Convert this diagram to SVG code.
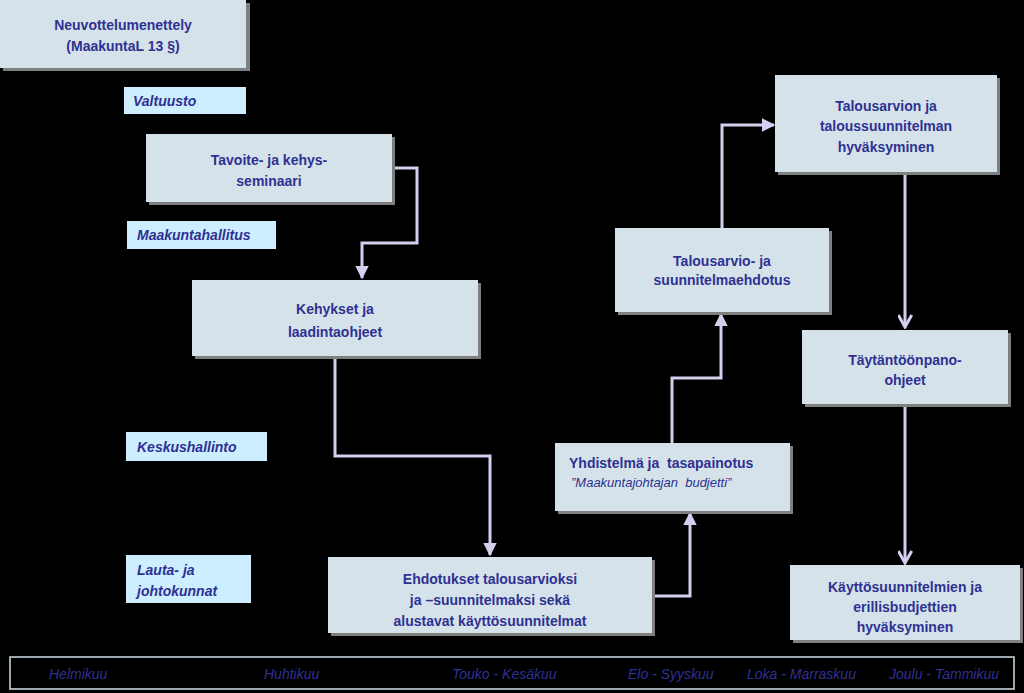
<svg xmlns="http://www.w3.org/2000/svg" width="1024" height="693" viewBox="0 0 1024 693">
<style>
.box{fill:#d5e2ea}
.sh{fill:#7f7f7f}
.lbl{fill:#cdeefe}
.t{font-family:"Liberation Sans",Arial,sans-serif;font-size:14px;font-weight:bold;fill:#2e3192;text-anchor:middle}
.li{font-family:"Liberation Sans",Arial,sans-serif;font-size:14px;font-weight:bold;font-style:italic;fill:#2e3192}
.m{font-family:"Liberation Sans",Arial,sans-serif;font-size:14px;font-style:italic;fill:#2e3192}
.c{fill:none;stroke:#d2d0ee;stroke-width:3}
</style>
<defs>
<marker id="tri" viewBox="0 0 10 10" refX="9" refY="5" markerWidth="4.5" markerHeight="4.5" orient="auto" markerUnits="strokeWidth">
<path d="M0,0 L10,5 L0,10 z" fill="#d2d0ee"/>
</marker>
<marker id="chev" viewBox="0 0 10 10" refX="9" refY="5" markerWidth="5" markerHeight="5" orient="auto" markerUnits="strokeWidth">
<path d="M1,0.5 L9,5 L1,9.5" fill="none" stroke="#d2d0ee" stroke-width="2"/>
</marker>
</defs>
<rect width="1024" height="693" fill="#000"/>

<g id="connectors">
<path class="c" d="M392,168 H417 V243 H362 V278" marker-end="url(#tri)"/>
<path class="c" d="M335,356 V456 H490 V555" marker-end="url(#tri)"/>
<path class="c" d="M652,596 H690 V513" marker-end="url(#tri)"/>
<path class="c" d="M672,443 V378 H721 V314" marker-end="url(#tri)"/>
<path class="c" d="M722,228 V125 H774" marker-end="url(#tri)"/>
<path class="c" d="M905,172 V327" marker-end="url(#chev)"/>
<path class="c" d="M905,404 V563" marker-end="url(#chev)"/>
</g>

<g id="n-neuvottelu">
<rect class="sh" x="3" y="3" width="247" height="68"/>
<rect class="box" x="0" y="0" width="246" height="68"/>
<text class="t" x="123" y="30">Neuvottelumenettely</text>
<text class="t" x="123" y="51">(MaakuntaL 13 §)</text>
</g>

<g id="l-valtuusto">
<rect class="lbl" x="124" y="87" width="122" height="27"/>
<text class="li" x="133" y="106">Valtuusto</text>
</g>

<g id="n-tavoite">
<rect class="sh" x="149" y="137" width="246" height="68"/>
<rect class="box" x="146" y="134" width="246" height="68"/>
<text class="t" x="269" y="165">Tavoite- ja kehys-</text>
<text class="t" x="269" y="186">seminaari</text>
</g>

<g id="l-maakuntahallitus">
<rect class="lbl" x="127" y="221" width="149" height="28"/>
<text class="li" x="137" y="240">Maakuntahallitus</text>
</g>

<g id="n-kehykset">
<rect class="sh" x="195" y="283" width="286" height="76"/>
<rect class="box" x="192" y="280" width="286" height="76"/>
<text class="t" x="335" y="314">Kehykset ja</text>
<text class="t" x="335" y="337">laadintaohjeet</text>
</g>

<g id="l-keskushallinto">
<rect class="lbl" x="126" y="432" width="141" height="29"/>
<text class="li" x="137" y="452">Keskushallinto</text>
</g>

<g id="l-lauta">
<rect class="lbl" x="126" y="555" width="125" height="48"/>
<text class="li" x="137" y="575">Lauta- ja</text>
<text class="li" x="137" y="596">johtokunnat</text>
</g>

<g id="n-ehdotukset">
<rect class="sh" x="331" y="560" width="324" height="76"/>
<rect class="box" x="328" y="557" width="324" height="76"/>
<text class="t" x="490" y="584">Ehdotukset talousarvioksi</text>
<text class="t" x="490" y="605">ja –suunnitelmaksi sekä</text>
<text class="t" x="490" y="626">alustavat käyttösuunnitelmat</text>
</g>

<g id="n-yhdistelma">
<rect class="sh" x="558" y="446" width="235" height="68"/>
<rect class="box" x="555" y="443" width="235" height="68"/>
<text class="li" x="569" y="468" style="font-style:normal" xml:space="preserve">Yhdistelmä ja  tasapainotus</text>
<text class="m" x="571" y="487" style="font-size:13px" xml:space="preserve">”Maakuntajohtajan  budjetti”</text>
</g>

<g id="n-ehdotus">
<rect class="sh" x="618" y="231" width="214" height="84"/>
<rect class="box" x="615" y="228" width="214" height="84"/>
<text class="t" x="722" y="266">Talousarvio- ja</text>
<text class="t" x="722" y="285">suunnitelmaehdotus</text>
</g>

<g id="n-hyvaksyminen">
<rect class="sh" x="778" y="78" width="222" height="97"/>
<rect class="box" x="775" y="75" width="222" height="97"/>
<text class="t" x="886" y="111">Talousarvion ja</text>
<text class="t" x="886" y="131">taloussuunnitelman</text>
<text class="t" x="886" y="152">hyväksyminen</text>
</g>

<g id="n-taytanto">
<rect class="sh" x="805" y="333" width="206" height="74"/>
<rect class="box" x="802" y="330" width="206" height="74"/>
<text class="t" x="905" y="365">Täytäntöönpano-</text>
<text class="t" x="905" y="385">ohjeet</text>
</g>

<g id="n-kaytto">
<rect class="sh" x="793" y="568" width="230" height="75"/>
<rect class="box" x="790" y="565" width="230" height="75"/>
<text class="t" x="905" y="592">Käyttösuunnitelmien ja</text>
<text class="t" x="905" y="612">erillisbudjettien</text>
<text class="t" x="905" y="632">hyväksyminen</text>
</g>

<g id="timeline">
<rect x="10" y="657" width="1004" height="32" fill="none" stroke="#cfe0e8" stroke-width="1.5"/>
<text class="m" x="49" y="679">Helmikuu</text>
<text class="m" x="264" y="679">Huhtikuu</text>
<text class="m" x="452" y="679">Touko - Kesäkuu</text>
<text class="m" x="628" y="679">Elo - Syyskuu</text>
<text class="m" x="747" y="679">Loka - Marraskuu</text>
<text class="m" x="889" y="679">Joulu - Tammikuu</text>
</g>
</svg>
